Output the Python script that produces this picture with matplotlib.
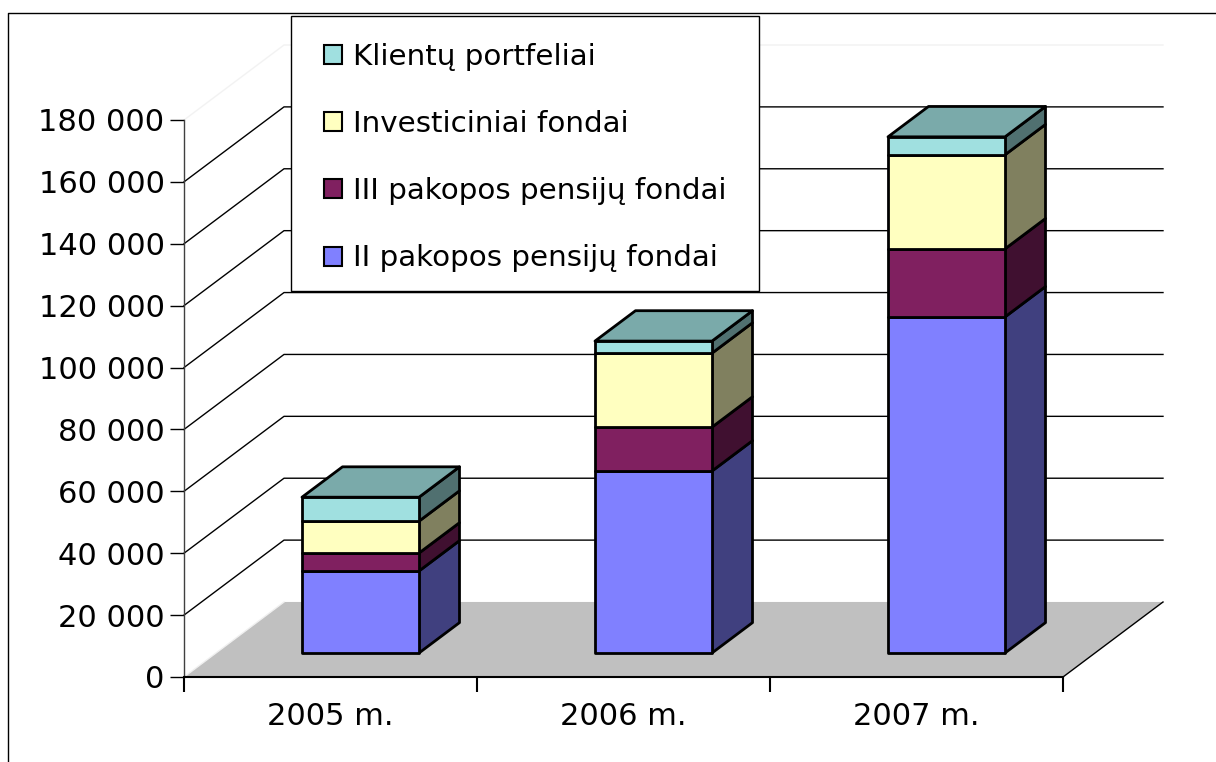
import matplotlib
matplotlib.use("Agg")
import matplotlib.pyplot as plt
from matplotlib.patches import Polygon, Patch, Rectangle
from matplotlib.lines import Line2D

categories = ["2005 m.", "2006 m.", "2007 m."]
series_names = ["II pakopos pensijų fondai", "III pakopos pensijų fondai",
                "Investiciniai fondai", "Klientų portfeliai"]
ii_pakopos = [26500, 58800, 108600]
iii_pakopos = [5800, 14200, 22000]
investiciniai = [10300, 23900, 30400]
klientu = [7750, 3900, 5800]
series_values = [ii_pakopos, iii_pakopos, investiciniai, klientu]
y_ticks = list(range(0, 180001, 20000))

front_colors = ["#8080FF", "#802060", "#FFFFC0", "#A0E0E0"]
side_colors = ["#40407F", "#401030", "#80805F", "#507070"]
top_color = "#7AAAAA"

W, H = 1216, 762
fig = plt.figure(figsize=(W / 100, H / 100), dpi=100, facecolor="white")
plt.rcParams["font.family"] = "DejaVu Sans"
L, R, B, T = 184, 1063, 677, 120
ax = fig.add_axes([L / W, 1 - B / H, (R - L) / W, (B - T) / H])
ax.set_xlim(0, 3)
ax.set_ylim(0, 180000)
ax.patch.set_alpha(0)

px_x = 3 / (R - L)
px_y = 180000 / (B - T)
DX, DY = 100 * px_x, 75 * px_y   # full depth of the 3D box, in data units


def P(x, v, d=0.0):
    """Oblique projection: depth d in 0..1 shifts right and up."""
    return (x + d * DX, v + d * DY)


# floor
ax.add_patch(Polygon([P(0, 0), P(3, 0), P(3, 0, 1), P(0, 0, 1)], closed=True,
                     fc="#C0C0C0", ec="none", zorder=1, clip_on=False))
ax.plot(*zip(P(3, 0), P(3, 0, 1)), color="black", lw=1, zorder=1.5, clip_on=False)
ax.plot(*zip(P(0, 0), P(0, 0, 1)), color="#F0F0F0", lw=1, zorder=1.5, clip_on=False)
ax.plot(*zip(P(0, 0, 1), P(3, 0, 1)), color="#F0F0F0", lw=1, zorder=0.9, clip_on=False)

# wall gridlines
for v in y_ticks[1:]:
    c = "#F2F2F2" if v == 180000 else "black"
    a, b, e = P(0, v), P(0, v, 1), P(3, v, 1)
    ax.plot([a[0], b[0], e[0]], [a[1], b[1], e[1]], color=c, lw=1, zorder=1,
            clip_on=False)

# bars
BAR_D0, BAR_D1 = 0.32, 0.725
BAR_W = 117 * px_x
for i in range(len(categories)):
    x0 = i + 0.5 - BAR_W / 2 - 2 * px_x
    x1 = x0 + BAR_W
    base = 0
    for k, vals in enumerate(series_values):
        top = base + vals[i]
        ax.add_patch(Polygon([P(x1, base, BAR_D0), P(x1, base, BAR_D1),
                              P(x1, top, BAR_D1), P(x1, top, BAR_D0)], closed=True,
                             fc=side_colors[k], ec="black", lw=2, joinstyle="round",
                             zorder=3 + i, clip_on=False))
        ax.add_patch(Polygon([P(x0, base, BAR_D0), P(x1, base, BAR_D0),
                              P(x1, top, BAR_D0), P(x0, top, BAR_D0)], closed=True,
                             fc=front_colors[k], ec="black", lw=2, joinstyle="round",
                             zorder=3 + i, clip_on=False))
        base = top
    ax.add_patch(Polygon([P(x0, base, BAR_D0), P(x1, base, BAR_D0),
                          P(x1, base, BAR_D1), P(x0, base, BAR_D1)], closed=True,
                         fc=top_color, ec="black", lw=2, joinstyle="round",
                         zorder=3 + i, clip_on=False))

# axes
for s in ("top", "right"):
    ax.spines[s].set_visible(False)
ax.spines["left"].set_linewidth(1)
ax.spines["left"].set_color("#404040")
ax.spines["bottom"].set_linewidth(1.5)
ax.spines["left"].set_zorder(2)
ax.spines["bottom"].set_zorder(2)
ax.set_yticks(y_ticks)
ax.set_yticklabels([f"{v:,}".replace(",", " ") for v in y_ticks], fontsize=22)
ax.tick_params(axis="y", length=10, width=1, pad=4)
ax.set_xticks([0, 1, 2, 3])
ax.set_xticklabels([])
ax.set_xticks([0.5, 1.5, 2.5], minor=True)
ax.set_xticklabels(categories, minor=True, fontsize=22)
ax.tick_params(axis="x", which="major", length=11, width=1.5)
ax.tick_params(axis="x", which="minor", length=0, pad=18)

# legend: fixed frame, entries placed inside it
fig.add_artist(Rectangle((290.5 / W, 1 - 290.5 / H), 468 / W, 274 / H,
                         transform=fig.transFigure, fc="white", ec="black",
                         lw=1, zorder=19))
handles = [Patch(fc=c, ec="black", lw=1.5) for c in front_colors]
order = [3, 2, 1, 0]
leg = fig.legend([handles[i] for i in order], [series_names[i] for i in order],
                 loc="upper left", bbox_to_anchor=(324 / W, 1 - 43 / H),
                 borderaxespad=0, frameon=False,
                 fontsize=21.2, labelspacing=1.33, handlelength=0.62, handleheight=0.62,
                 handletextpad=0.37, borderpad=0)
leg.set_zorder(20)

# chart-area border (top and left edges are what is in frame)
fig.add_artist(Line2D([8 / W, 8 / W, 1], [0, 1 - 13 / H, 1 - 13 / H],
                      color="black", lw=1))

fig.savefig("out.png", dpi=100)
